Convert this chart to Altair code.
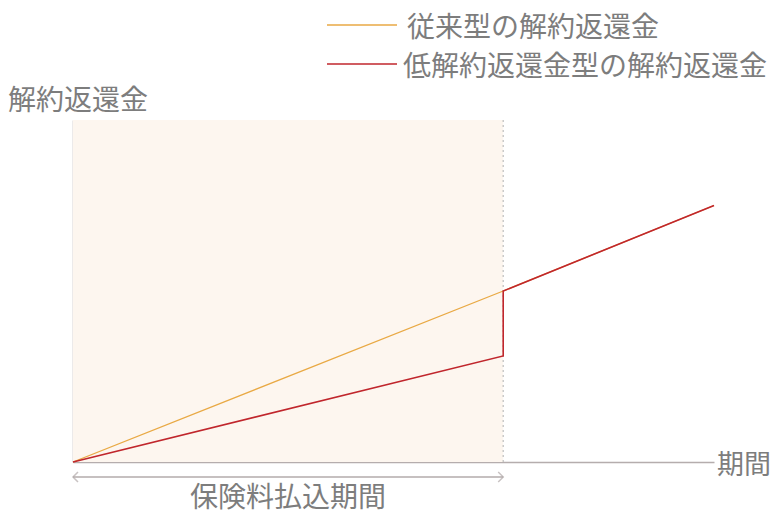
import altair as alt
import pandas as pd

# ---- data ----
series = ["従来型の解約返還金", "低解約返還金型の解約返還金"]
colors = ["#E9A944", "#C0262C"]
conv_x = [0, 10, 14.9]
conv_y = [0, 50, 75]
low_x = [0, 10, 10, 14.9]
low_y = [0, 31, 50, 75]
pay_end = 10
x_max = 14.9
y_max = 100
y_title = "解約返還金"
x_title = "期間"
pay_label = "保険料払込期間"

FONT = "Noto Sans CJK JP"
TEXT_COLOR = "#7d7d7d"
AXIS_COLOR = "#B5ADAD"

conv = pd.DataFrame({"x": conv_x, "y": conv_y, "i": range(len(conv_x)), "series": series[0]})
low = pd.DataFrame({"x": low_x, "y": low_y, "i": range(len(low_x)), "series": series[1]})
box = pd.DataFrame({"x": [0], "x2": [pay_end], "y": [0], "y2": [y_max]})
leg = pd.DataFrame({"series": series})

xs = alt.Scale(domain=[0, x_max], nice=False, zero=False)
ys = alt.Scale(domain=[0, y_max], nice=False, zero=False)
cs = alt.Scale(domain=series, range=colors)
ax = alt.Axis(domain=True, domainColor=AXIS_COLOR, domainWidth=1.5, ticks=False,
              labels=False, grid=False, title=None)

shade = alt.Chart(box).mark_rect(color="#FDF6EF").encode(
    x=alt.X("x:Q", scale=xs, axis=ax), x2="x2:Q",
    y=alt.Y("y:Q", scale=ys, axis=ax), y2="y2:Q")

dotted = alt.Chart(box).mark_rule(color="#BDBDBD", strokeDash=[2, 3], strokeWidth=1.2).encode(
    x=alt.X("x2:Q", scale=xs), y=alt.Y("y:Q", scale=ys), y2="y2:Q")

line_conv = alt.Chart(conv).mark_line(strokeWidth=1.3).encode(
    x=alt.X("x:Q", scale=xs), y=alt.Y("y:Q", scale=ys),
    order="i:Q", color=alt.Color("series:N", scale=cs, legend=None))
line_low = alt.Chart(low).mark_line(strokeWidth=1.6).encode(
    x=alt.X("x:Q", scale=xs), y=alt.Y("y:Q", scale=ys),
    order="i:Q", color=alt.Color("series:N", scale=cs, legend=None))

ARROW = "#B3ABAB"
arrow_line = alt.Chart(box).mark_rule(color=ARROW, strokeWidth=1.5).encode(
    x=alt.X("x:Q", scale=xs), x2="x2:Q", y=alt.value(357))
arrow_l = alt.Chart(box).mark_point(shape="M1,-1L0,0L1,1", size=100, color=ARROW,
                                    filled=False, strokeWidth=1.5).encode(
    x=alt.X("x:Q", scale=xs), y=alt.value(357))
arrow_r = alt.Chart(box).mark_point(shape="M-1,-1L0,0L-1,1", size=100, color=ARROW,
                                    filled=False, strokeWidth=1.5).encode(
    x=alt.X("x2:Q", scale=xs), y=alt.value(357))

txt = dict(font=FONT, fontSize=28, color=TEXT_COLOR, baseline="middle")
pay_text = alt.Chart(box).mark_text(text=pay_label, align="center", **txt).encode(
    x=alt.value(215), y=alt.value(379))
xt = alt.Chart(box).mark_text(text=x_title, align="right",
                              **{**txt, "fontSize": 27}).encode(
    x=alt.value(698), y=alt.value(346))
yt = alt.Chart(box).mark_text(text=y_title, align="left", **txt).encode(
    x=alt.value(-65), y=alt.value(-18))

leg_layers = []
for k, (lx, ly, tx, ty) in enumerate([(254, -95, 334, -91), (254, -56, 330, -52)]):
    d = leg.iloc[[k]]
    leg_layers.append(alt.Chart(d).mark_rule(strokeWidth=1.5).encode(
        x=alt.value(lx), x2=alt.value(lx + 70), y=alt.value(ly),
        color=alt.Color("series:N", scale=cs, legend=None)))
    leg_layers.append(alt.Chart(d).mark_text(align="left", **txt).encode(
        x=alt.value(tx), y=alt.value(ty), text="series:N"))

chart = alt.layer(shade, dotted, line_conv, line_low, arrow_line, arrow_l, arrow_r,
                  pay_text, xt, yt, *leg_layers).properties(
    width=641, height=342,
    padding={"left": 65, "top": 112, "right": 58, "bottom": 56},
    autosize=alt.AutoSizeParams(type="none"),
).configure_view(stroke=None)

chart.save("out.html", embed_options={"renderer": "svg", "actions": False})
